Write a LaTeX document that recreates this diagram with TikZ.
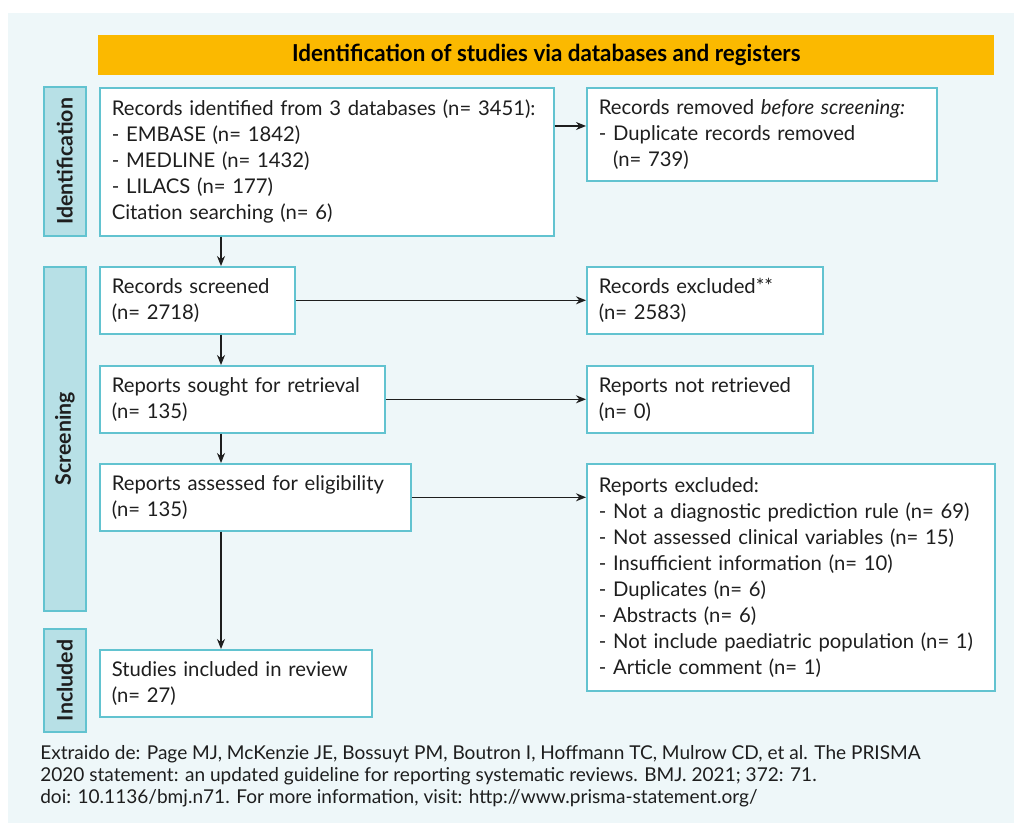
\documentclass[tikz,border=0pt]{standalone}
\usepackage{fontspec}
\setmainfont{Lato}
\usetikzlibrary{arrows.meta}
\definecolor{bgc}{HTML}{EEF7F9}
\definecolor{hdr}{HTML}{FBB900}
\definecolor{labfill}{HTML}{B7E0E6}
\definecolor{cyanline}{HTML}{62C3D0}
\definecolor{ink}{HTML}{1E1E1E}
\tikzset{
  box/.style={draw=cyanline, line width=1.2pt, fill=white, anchor=north west,
    align=left, inner xsep=9pt, inner ysep=0pt, text=ink,
    font=\fontsize{15.2}{19.5}\selectfont},
  sidelab/.style={draw=cyanline, line width=1.2pt, fill=labfill, anchor=north west,
    minimum width=31.5pt, inner sep=0pt, text=ink},
  sidetext/.style={rotate=90, font=\bfseries\fontsize{16}{18}\selectfont, text=ink},
  arr/.style={draw=ink, line width=0.9pt, -{Stealth[length=7.5pt,width=6pt]}},
}
\begin{document}
\begin{tikzpicture}[x=0.75pt,y=-0.75pt]
\useasboundingbox (0,0) rectangle (1014,823);
\fill[bgc] (8,13) rectangle (1014,823);
% header
\node[fill=hdr, anchor=north west, minimum width=672pt, minimum height=30pt, inner sep=0pt] (head) at (98,35)
  {\scalebox{0.96}[1]{\bfseries\fontsize{17.5}{20}\selectfont Identification of studies via databases and registers}};
% side labels
\node[sidelab, minimum height=111.75pt] (idlab) at (43,86) {};
\node[sidetext] at (idlab.center) {Identification};
\node[sidelab, minimum height=258pt] (scrlab) at (43,266) {};
\node[sidetext] at (scrlab.center) {Screening};
\node[sidelab, minimum height=77.25pt] (inclab) at (43,628) {};
\node[sidetext] at (inclab.center) {Included};
% boxes
\node[box, minimum width=340.5pt, minimum height=111pt, text width=322.5pt] (b1) at (99,87)
  {Records identified from 3 databases (n= 3451):\\
   - EMBASE (n= 1842)\\
   - MEDLINE (n= 1432)\\
   - LILACS (n= 177)\\
   Citation searching (n= 6)};
\node[box, minimum width=262.5pt, minimum height=69.75pt, text width=244.5pt] (rem) at (586,87)
  {Records removed \textit{before screening:}\\
   - Duplicate records removed\\
   \hphantom{-} (n= 739)};
\node[box, minimum width=146.25pt, minimum height=50.25pt, text width=128.25pt] (scr) at (99,266)
  {Records screened\\(n= 2718)};
\node[box, minimum width=177pt, minimum height=50.25pt, text width=159pt] (exc) at (586,266)
  {Records excluded**\\(n= 2583)};
\node[box, minimum width=213.75pt, minimum height=50.25pt, text width=195.75pt] (sought) at (99,365)
  {Reports sought for retrieval\\(n= 135)};
\node[box, minimum width=169.5pt, minimum height=50.25pt, text width=151.5pt] (notret) at (586,365)
  {Reports not retrieved\\(n= 0)};
\node[box, minimum width=233.25pt, minimum height=50.25pt, text width=215.25pt] (ass) at (99,463)
  {Reports assessed for eligibility\\(n= 135)};
\node[box, minimum width=306pt, minimum height=170.25pt, text width=288pt] (repexc) at (586,463)
  {Reports excluded:\\
   - Not a diagnostic prediction rule (n= 69)\\
   - Not assessed clinical variables (n= 15)\\
   - Insufficient information (n= 10)\\
   - Duplicates (n= 6)\\
   - Abstracts (n= 6)\\
   - Not include paediatric population (n= 1)\\
   - Article comment (n= 1)};
\node[box, minimum width=204pt, minimum height=50.25pt, text width=186pt] (inc) at (99,649)
  {Studies included in review\\(n= 27)};
% arrows
\coordinate (ax) at (221,0);
\coordinate (ry) at (0,126);
\draw[arr] (b1.south -| ax) -- (scr.north -| ax);
\draw[arr] (scr.south -| ax) -- (sought.north -| ax);
\draw[arr] (sought.south -| ax) -- (ass.north -| ax);
\draw[arr] (ass.south -| ax) -- (inc.north -| ax);
\draw[arr] (b1.east |- ry) -- (rem.west |- ry);
\draw[arr] (scr.east) -- (exc.west |- scr.east);
\draw[arr] (sought.east) -- (notret.west |- sought.east);
\draw[arr] (ass.east) -- (repexc.west |- ass.east);
% footnote
\node[anchor=north west, align=left, inner sep=0pt, text=ink, font=\fontsize{14.3}{16.5}\selectfont] (foot) at (40,745)
  {Extraido de: Page MJ, McKenzie JE, Bossuyt PM, Boutron I, Hoffmann TC, Mulrow CD, et al. The PRISMA\\
   2020 statement: an updated guideline for reporting systematic reviews. BMJ. 2021; 372: 71.\\
   doi: 10.1136/bmj.n71. For more information, visit: http://www.prisma-statement.org/};
\end{tikzpicture}
\end{document}
